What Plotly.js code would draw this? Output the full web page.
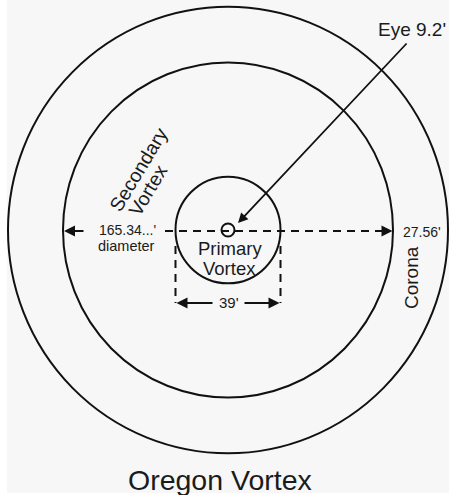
<!DOCTYPE html>
<html>
<head>
<meta charset="utf-8">
<script src="https://cdn.plot.ly/plotly-3.0.1.min.js"></script>
<style>
html, body { margin: 0; padding: 0; background: #ffffff; }
#chart { width: 449px; height: 495px; }
</style>
</head>
<body>
<div id="chart"></div>
<script>
// ---- Diagram data ----
const regionNames = ['Corona', 'Secondary Vortex', 'Primary Vortex', 'Eye'];
const ringRadii = [220, 165, 52.5, 6.5];          // drawing units (outer ring, secondary, primary, eye)
const dimensionLabels = ["165.34...'", 'diameter', "27.56'", "39'", 'Eye 9.2\''];
const chartTitle = 'Oregon Vortex';

// ---- Layout helpers (pixel position -> axis units) ----
const CX = 228, CY = 230, SY = 1.015;
const X = px => px - CX;
const Y = py => (CY - py) / SY;

const INK = '#111111';
const TXT = '#1b1b1b';
const FONT = 'Liberation Sans, Arial, Helvetica, sans-serif';

const shapes = [];
ringRadii.forEach(r => {
  shapes.push({
    type: 'circle', xref: 'x', yref: 'y',
    x0: -r, x1: r, y0: -r, y1: r,
    line: { color: INK, width: 2 }, fillcolor: 'rgba(0,0,0,0)', layer: 'above'
  });
});
const dash = '8px,6px';
// horizontal diameter line (dashed)
shapes.push({ type: 'line', xref: 'x', yref: 'y', x0: X(165), x1: X(385), y0: Y(231), y1: Y(231),
  line: { color: INK, width: 2, dash: dash } });
// vertical extension lines for the primary vortex width
[-ringRadii[2], ringRadii[2]].forEach(xx => {
  shapes.push({ type: 'line', xref: 'x', yref: 'y', x0: xx, x1: xx, y0: Y(246), y1: Y(303),
    line: { color: INK, width: 2, dash: dash } });
});

function arrow(hx, hy, tx, ty, w) {
  return { x: hx, y: hy, ax: tx, ay: ty, xref: 'x', yref: 'y', axref: 'x', ayref: 'y',
    text: '', showarrow: true, arrowhead: 2, arrowsize: 1.1, arrowwidth: w || 2,
    arrowcolor: INK, standoff: 0, startstandoff: 0 };
}
function label(txt, px, py, size, angle) {
  return { x: X(px), y: Y(py), xref: 'x', yref: 'y', text: txt, showarrow: false,
    xanchor: 'center', yanchor: 'middle', textangle: angle || 0, borderpad: 0,
    font: { family: FONT, size: size, color: TXT } };
}

const annotations = [
  // arrows
  arrow(-ringRadii[1] + 1, Y(231), X(85), Y(231)),
  arrow(ringRadii[1] - 0.5, Y(231), X(380), Y(231)),
  arrow(-ringRadii[2] + 1, Y(303), X(214), Y(303)),
  arrow(ringRadii[2] - 1, Y(303), X(243), Y(303)),
  arrow(X(238), Y(223), X(408), Y(42), 1.8),
  // labels
  label(dimensionLabels[4], 412, 29, 19),
  label(dimensionLabels[0], 127, 229.5, 14),
  label(dimensionLabels[1], 126, 246, 14.5),
  label(dimensionLabels[2], 422, 232, 14),
  label(dimensionLabels[3], 229, 302, 15),
  label('Primary', 229.5, 248, 18.5),
  label('Vortex', 229.5, 268, 18.5),
  label(regionNames[0], 411, 278, 19, -90),
  label('Secondary', 138, 170, 19.5, -59),
  label('Vortex', 148, 190, 19.5, -59),
  label(chartTitle, 220, 480, 28.5)
];

const layout = {
  width: 449, height: 495,
  margin: { l: 7, r: 0, t: 0, b: 2, pad: 0 },
  paper_bgcolor: '#ffffff',
  plot_bgcolor: '#f7f7f7',
  showlegend: false,
  xaxis: { range: [X(7), X(449)], visible: false, fixedrange: true },
  yaxis: { range: [Y(493), Y(0)], visible: false, fixedrange: true },
  shapes: shapes,
  annotations: annotations
};

Plotly.newPlot('chart', [{ x: [], y: [], type: 'scatter', mode: 'lines', hoverinfo: 'skip' }], layout,
  { staticPlot: true, displayModeBar: false });
</script>
</body>
</html>
